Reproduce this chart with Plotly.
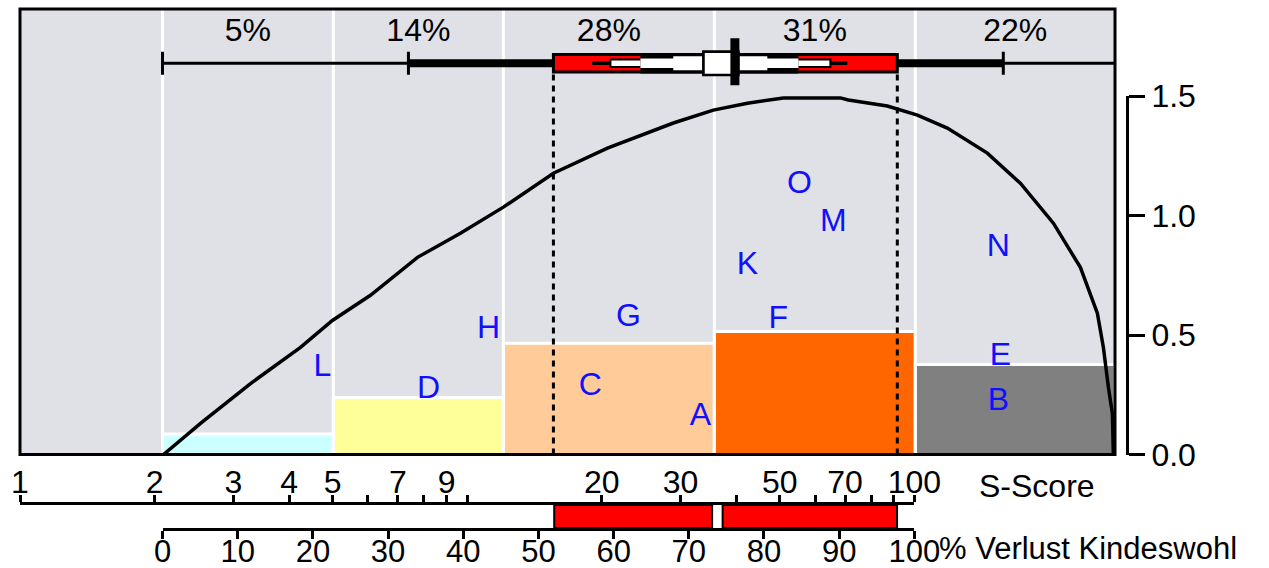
import math
import plotly.graph_objects as go

# ---------------- data ----------------
bin_edges = [2.083, 5.02, 12.05, 35.7, 100.5, 281]          # S-score bin edges
bin_heights = [0.086, 0.239, 0.465, 0.515, 0.377]
bin_pct_labels = ["5%", "14%", "28%", "31%", "22%"]

curve_s = [2.094, 2.533, 3.277, 4.239, 4.996, 6.077, 7.742, 9.658, 12.05, 15.59,
           20.59, 28.91, 35.52, 42.32, 50.94, 61.63, 68.32, 71.19, 87.01, 101.6,
           118.5, 145.6, 172.6, 204.6, 235.1, 256.6, 264.7, 271.6, 277.2, 278.6]
curve_y = [0.0, 0.13, 0.297, 0.448, 0.561, 0.666, 0.825, 0.926, 1.035, 1.177,
           1.282, 1.387, 1.441, 1.47, 1.492, 1.494, 1.492, 1.483, 1.458, 1.42,
           1.366, 1.261, 1.135, 0.968, 0.783, 0.591, 0.448, 0.281, 0.172, 0.0]

letters = ["L", "D", "H", "C", "G", "A", "F", "K", "O", "M", "N", "E", "B"]
letter_s = [4.747, 8.192, 11.16, 18.86, 22.94, 33.22, 49.65, 42.32, 55.34, 65.9, 154.1, 155.7, 154.1]
letter_y = [0.36, 0.268, 0.5195, 0.2807, 0.5698, 0.155, 0.5614, 0.7876, 1.127, 0.9677, 0.863, 0.406, 0.218]

whisker_ticks = [2.083, 7.39, 158.1]
whisker_end = 281
box_q = [15.59, 91.6]
median_s = 39.69
inner_line = [19.05, 70.83]
inner_box = [20.91, 64.9]
black_band = [24.4, 55.05]
white_core = [28.9, 46.9]
tall_box = [33.75, 40.4]

red_bars_pct = [[52.1, 73.1], [74.5, 97.7]]

s_tickvals = [1, 2, 3, 4, 5, 6, 7, 8, 9, 10, 20, 30, 40, 50, 60, 70, 80, 90, 100]
s_ticktext = ["1", "2", "3", "4", "5", "", "7", "", "9", "", "20", "30", "", "50", "", "70", "", "", "100"]
pct_tickvals = [0, 10, 20, 30, 40, 50, 60, 70, 80, 90, 100]
pct_ticktext = ["0", "10", "20", "30", "40", "50", "60", "70", "80", "90", "100"]
y_tickvals = [0, 0.5, 1.0, 1.5]
y_ticktext = ["0.0", "0.5", "1.0", "1.5"]

# ---------------- styles / layout constants ----------------
bin_colors = ["#ccffff", "#ffff99", "#ffcc99", "#ff6600", "#808080"]
BG = "#e0e1e6"
LETTER_COLOR = "#1010ff"
FONT = "Liberation Sans, Arial, sans-serif"
FS = 32
FS_LOW = 31

W, H = 1269, 568
PL, PR, AXR = 19.5, 1115.0, 1127.0      # plot left, plot right, right axis x (px)
PT, PB_MAIN, PB = 9.0, 454.5, 528.0     # top, main bottom, lower axis (px)
S_AX_Y = 505.0
PPU = 239.0                              # px per y unit

pw = AXR - PL
ph = PB - PT
S_MAX = bin_edges[-1]
LOGMAX = math.log10(S_MAX)
dx_main = (PR - PL) / pw
y_dom0 = (PB - PB_MAIN) / ph
YMAX = (PB_MAIN - PT) / PPU
y2_top = y_dom0 + 1.5 * PPU / ph
y3_top = (PB - S_AX_Y) / ph
PPX = (PR - PL) / LOGMAX                 # px per decade

WY = (PB_MAIN - 63.3) / PPU              # whisker centre (data units)
LABEL_Y = (PB_MAIN - 33.0) / PPU


def dy(px):
    return px / PPU


shapes = []
# plot background
shapes.append(dict(type="rect", xref="x domain", yref="y domain", x0=0, x1=1, y0=0, y1=1,
                   fillcolor=BG, line=dict(width=0), layer="below"))
# histogram bars
for i in range(len(bin_heights)):
    shapes.append(dict(type="rect", xref="x", yref="y",
                       x0=bin_edges[i], x1=bin_edges[i + 1], y0=0, y1=bin_heights[i],
                       fillcolor=bin_colors[i], line=dict(color="white", width=3), layer="below"))
# white separators
for e in bin_edges[:-1]:
    shapes.append(dict(type="line", xref="x", yref="y", x0=e, x1=e, y0=0, y1=YMAX,
                       line=dict(color="white", width=3), layer="below"))
# dotted quartile lines
for q in box_q:
    shapes.append(dict(type="line", xref="x", yref="y", x0=q, x1=q, y0=0, y1=WY - dy(11),
                       line=dict(color="black", width=3, dash="6px,5px"), layer="below"))


def wrect(a, b, half, fill, lw=0, lc="black", up=0.0):
    shapes.append(dict(type="rect", xref="x", yref="y", x0=a, x1=b,
                       y0=WY - dy(half) + dy(up), y1=WY + dy(half) + dy(up),
                       fillcolor=fill, line=dict(color=lc, width=lw), layer="above"))


# whisker / box row
shapes.append(dict(type="line", xref="x", yref="y", x0=whisker_ticks[0], x1=whisker_end,
                   y0=WY, y1=WY, line=dict(color="black", width=3), layer="above"))
for t in whisker_ticks:
    shapes.append(dict(type="line", xref="x", yref="y", x0=t, x1=t,
                       y0=WY - dy(11.5), y1=WY + dy(11.5), line=dict(color="black", width=3), layer="above"))
wrect(whisker_ticks[1], whisker_ticks[2], 4, "black")
wrect(box_q[0], box_q[1], 8.8, "#ff0000", lw=3)
wrect(inner_line[0], inner_line[1], 1.7, "black")
wrect(inner_box[0], inner_box[1], 3.7, "white", lw=2)
wrect(black_band[0], black_band[1], 10.3, "black")
wrect(black_band[0], black_band[1], 4.7, "white")
wrect(white_core[0], white_core[1], 7.0, "white")
wrect(tall_box[0], tall_box[1], 11.7, "white", lw=2.7)
mfac = 10 ** (4.5 / PPX)
shapes.append(dict(type="rect", xref="x", yref="y",
                   x0=median_s / mfac, x1=median_s * mfac,
                   y0=WY - dy(22), y1=WY + dy(25), fillcolor="black", line=dict(width=0), layer="above"))

# red bars between the lower axes
for a, b in red_bars_pct:
    shapes.append(dict(type="rect", xref="x3", yref="y3", x0=a, x1=b, y0=0, y1=1,
                       fillcolor="#ff0000", line=dict(color="black", width=2), layer="above"))

# plot frame
shapes.append(dict(type="rect", xref="x domain", yref="y domain", x0=0, x1=1, y0=0, y1=1,
                   line=dict(color="black", width=3), fillcolor="rgba(0,0,0,0)", layer="above"))

fig = go.Figure()
fig.add_trace(go.Scatter(x=curve_s, y=curve_y, mode="lines", line=dict(color="black", width=3.5),
                         hoverinfo="skip", showlegend=False))
fig.add_trace(go.Scatter(x=letter_s, y=letter_y, mode="text", text=letters, textposition="middle center",
                         textfont=dict(family=FONT, size=FS, color=LETTER_COLOR),
                         hoverinfo="skip", showlegend=False))
centers = [math.sqrt(bin_edges[i] * bin_edges[i + 1]) for i in range(len(bin_pct_labels))]
fig.add_trace(go.Scatter(x=centers, y=[LABEL_Y] * len(centers), mode="text", text=bin_pct_labels,
                         textposition="middle center", textfont=dict(family=FONT, size=FS, color="black"),
                         hoverinfo="skip", showlegend=False))
# invisible anchors for the auxiliary axes
fig.add_trace(go.Scatter(x=[2], y=[0.5], xaxis="x", yaxis="y2", mode="markers",
                         marker=dict(opacity=0), hoverinfo="skip", showlegend=False))
fig.add_trace(go.Scatter(x=[2], y=[0.5], xaxis="x2", yaxis="y3", mode="markers",
                         marker=dict(opacity=0), hoverinfo="skip", showlegend=False))
fig.add_trace(go.Scatter(x=[50], y=[0.5], xaxis="x3", yaxis="y3", mode="markers",
                         marker=dict(opacity=0), hoverinfo="skip", showlegend=False))

axfont = dict(family=FONT, size=FS, color="black")
lowfont = dict(family=FONT, size=FS_LOW, color="black")
fig.update_layout(
    template="none",
    width=W, height=H,
    margin=dict(l=PL, r=W - AXR, t=PT, b=H - PB, pad=0, autoexpand=False),
    paper_bgcolor="white", plot_bgcolor="rgba(0,0,0,0)",
    font=axfont,
    showlegend=False,
    shapes=shapes,
    xaxis=dict(type="log", domain=[0, dx_main], range=[0, LOGMAX], visible=False, fixedrange=True,
               automargin=False),
    yaxis=dict(domain=[y_dom0, 1], range=[0, YMAX], visible=False, fixedrange=True, automargin=False),
    yaxis2=dict(domain=[y_dom0, y2_top], range=[0, 1.5], anchor="free", position=1.0, side="right",
                showline=True, linecolor="black", linewidth=3, ticks="outside", ticklen=16, tickwidth=3,
                tickcolor="black", tickvals=y_tickvals, ticktext=y_ticktext, showgrid=False,
                zeroline=False, tickfont=axfont, automargin=False),
    yaxis3=dict(domain=[0, y3_top], range=[0, 1], visible=False, fixedrange=True, automargin=False),
    xaxis2=dict(type="log", domain=[0, dx_main * 2 / LOGMAX], range=[0, 2], anchor="y3", side="top",
                showline=True, linecolor="black", linewidth=3, ticks="outside", ticklen=7, tickwidth=2.5,
                tickcolor="black", tickvals=s_tickvals, ticktext=s_ticktext, showgrid=False,
                zeroline=False, tickfont=axfont, automargin=False, ticklabelstandoff=-11),
    xaxis3=dict(domain=[dx_main * math.log10(bin_edges[0]) / LOGMAX, dx_main * 2 / LOGMAX], range=[0, 100],
                anchor="y3", side="bottom", showline=True, linecolor="black", linewidth=3,
                ticks="outside", ticklen=8, tickwidth=2.5, tickcolor="black",
                tickvals=pct_tickvals, ticktext=pct_ticktext, showgrid=False, zeroline=False,
                tickfont=lowfont, automargin=False, ticklabelstandoff=-14),
    annotations=[
        dict(text="S-Score", xref="x3", yref="paper", x=100, y=(PB - 486) / ph, xshift=63,
             xanchor="left", yanchor="middle", showarrow=False, font=axfont),
        dict(text="% Verlust Kindeswohl", xref="x3", yref="paper", x=100, y=(PB - 548) / ph,
             xshift=24, xanchor="left", yanchor="middle", showarrow=False, font=lowfont,
             borderpad=0),
    ],
)

fig.write_html("out.html")
